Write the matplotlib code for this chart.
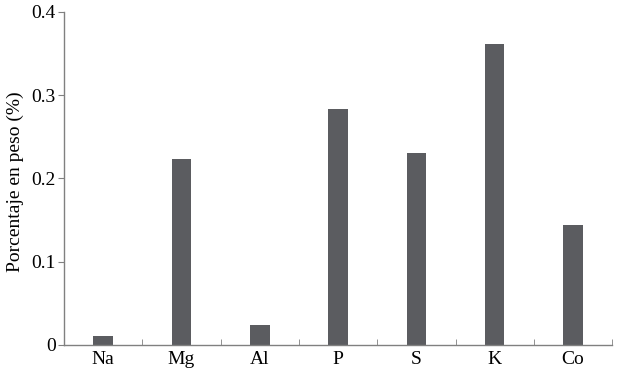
import matplotlib.pyplot as plt
import numpy as np

elements = ["Na", "Mg", "Al", "P", "S", "K", "Co"]
percent = [0.011, 0.224, 0.024, 0.283, 0.231, 0.362, 0.144]
yticks = [0, 0.1, 0.2, 0.3, 0.4]
ytick_labels = ["0", "0.1", "0.2", "0.3", "0.4"]

plt.rcParams['font.family'] = ['Liberation Serif', 'DejaVu Serif']

fig = plt.figure(figsize=(6.24, 3.70), dpi=100)
ax = fig.add_axes([0.1026, 0.0676, 0.8784, 0.90])

x = np.arange(len(elements))
ax.bar(x, percent, width=0.25, color="#5b5c60")

ax.set_xlim(-0.5, len(elements) - 0.5)
ax.set_ylim(0, 0.4)
ax.set_xticks(x)
ax.set_xticklabels(elements, fontsize=14)
ax.set_xticks(np.arange(-0.5, len(elements)), minor=True)
ax.tick_params(axis='x', which='major', length=0, pad=4)
ax.tick_params(axis='x', which='minor', direction='in', length=4, color="#808080")
ax.set_yticks(yticks)
ax.set_yticklabels(ytick_labels, fontsize=14)
ax.tick_params(axis='y', direction='out', length=4, color="#808080", pad=2)

for s in ['top', 'right']:
    ax.spines[s].set_visible(False)
for s in ['left', 'bottom']:
    ax.spines[s].set_color("#808080")
    ax.spines[s].set_linewidth(1.0)

ax.set_ylabel("Porcentaje en peso (%)", fontsize=14)
ax.yaxis.set_label_coords(-0.073, 0.49)

fig.savefig("out.png", dpi=100)
